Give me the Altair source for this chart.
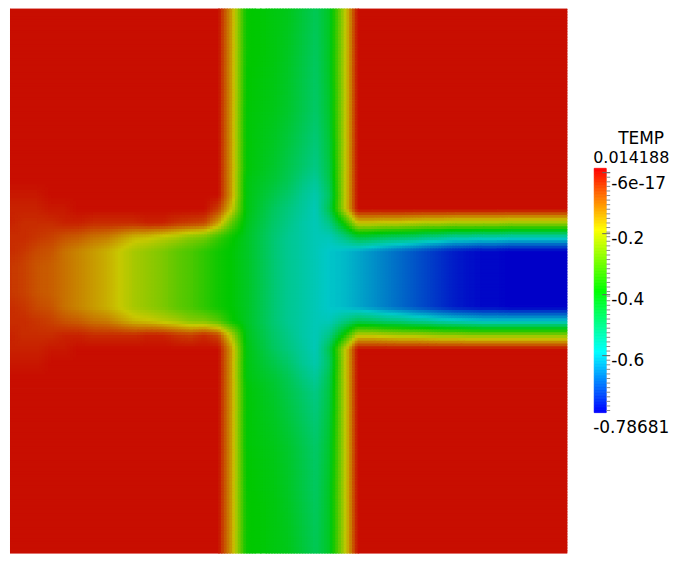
import altair as alt
import numpy as np
import pandas as pd

# ---------------- data ----------------
FIELD_NAME = "TEMP"
VMIN, VMAX = -0.78681, 0.014188

# colour-bar labels
TICK_VALUES = [0.0, -0.2, -0.4, -0.6]
TICK_LABELS = ["-6e-17", "-0.2", "-0.4", "-0.6"]
MAX_LABEL = "0.014188"
MIN_LABEL = "-0.78681"

# mesh node coordinates (1 unit = one mesh spacing)
NODE_X = list(range(41))
NODE_Y = [0, 4, 8, 12, 13, 14, 15, 16, 17, 18, 19, 20, 21, 22, 23, 24, 25, 26, 27, 28, 32, 36, 40]

# TEMP at the mesh nodes, in hundredths: left part X0-14 | middle X15-24 | right part X25-40
ZL = "0 0 0 0 0 0 0 0 0 0 0 0 0 0 0"
ZR = "0 0 0 0 0 0 0 0 0 0 0 0 0 0 0 0"
RC = "-62 -64 -66 -68 -70 -72 -74 -76 -77 -78 -78 -79 -79 -79 -79 -79"
LC = "-4 -5 -7 -8 -10 -12 -14 -16 -19 -22 -24 -26 -29 -31 -34"
MC = "-37 -39 -42 -46 -50 -53 -55 -57 -59 -60"
TEMP_ROWS = {
    0:  ZL + " | 0 -15 -38 -39 -40 -41 -44 -47 -42 -22 | " + ZR,
    4:  ZL + " | 0 -15 -38 -39 -40 -42 -45 -48 -42 -22 | " + ZR,
    8:  ZL + " | 0 -15 -39 -40 -41 -43 -46 -49 -43 -22 | " + ZR,
    12: ZL + " | 0 -15 -39 -41 -43 -46 -49 -52 -45 -22 | " + ZR,
    13: ZL + " | 0 -15 -40 -42 -44 -47 -51 -54 -46 -22 | " + ZR,
    14: "-1 -1 -1 0 0 0 0 0 0 0 0 0 0 0 0 | 0 -15 -40 -43 -46 -49 -53 -56 -48 -22 | " + ZR,
    15: "-2 -2 -2 -1 -1 0 0 0 0 0 0 0 0 0 0 | -5 -19 -40 -44 -48 -51 -54 -57 -46 -22 | " + ZR,
    16: "-2 -3 -3 -3 -2 -2 -3 -3 -3 -3 -2 -2 -4 -5 -6 | -15 -30 -41 -45 -49 -52 -55 -57 -52 -38 | "
        "-19 -19 -20 -20 -21 -22 -22 -23 -23 -23 -23 -24 -24 -24 -24 -24",
    17: "-3 -3 -4 -5 -7 -8 -10 -11 -14 -17 -18 -20 -22 -25 -27 | -33 -38 -42 -46 -50 -53 -55 -57 -57 -52 | "
        "-45 -46 -48 -49 -50 -52 -53 -55 -55 -56 -56 -57 -57 -57 -57 -57",
    18: "-3 -4 -6 -7 -10 -12 -14 -16 -19 -22 -24 -26 -29 -31 -34 | " + MC + " | " + RC,
    19: LC + " | " + MC + " | " + RC,
    20: LC + " | " + MC + " | " + RC,
    21: LC + " | " + MC + " | " + RC,
    22: "-3 -4 -6 -7 -10 -12 -14 -16 -19 -22 -24 -26 -29 -31 -34 | " + MC + " | " + RC,
    23: "-3 -3 -4 -5 -7 -8 -10 -11 -14 -17 -18 -20 -22 -25 -26 | -30 -38 -42 -46 -50 -53 -55 -57 -57 -52 | "
        "-47 -48 -50 -51 -53 -54 -56 -57 -58 -59 -59 -59 -59 -59 -59 -59",
    24: "-2 -3 -3 -3 -2 -2 -3 -3 -3 -3 -2 -2 -4 -5 -3 | -6 -22 -41 -45 -49 -52 -55 -57 -52 -38 | "
        "-20 -20 -21 -22 -22 -23 -24 -24 -25 -25 -25 -25 -25 -25 -25 -25",
    25: "-2 -2 -2 -1 -1 0 0 0 0 0 0 0 0 0 0 | 0 -15 -40 -44 -48 -51 -54 -57 -46 -22 | " + ZR,
    26: "-1 -1 -1 0 0 0 0 0 0 0 0 0 0 0 0 | 0 -15 -40 -43 -46 -49 -53 -56 -48 -22 | " + ZR,
    27: ZL + " | 0 -15 -40 -42 -44 -47 -51 -54 -46 -22 | " + ZR,
    28: ZL + " | 0 -15 -39 -41 -43 -46 -49 -52 -45 -22 | " + ZR,
    32: ZL + " | 0 -15 -39 -40 -41 -43 -46 -49 -43 -22 | " + ZR,
    36: ZL + " | 0 -15 -38 -39 -40 -42 -45 -48 -42 -22 | " + ZR,
    40: ZL + " | 0 -15 -38 -39 -40 -41 -44 -47 -42 -22 | " + ZR,
}

# ---------------- shade the mesh (linear interpolation inside cells, like the original renderer) -----
grid = np.array([[float(t) for t in TEMP_ROWS[y].replace("|", " ").split()] for y in NODE_Y]) / 100.0
assert grid.shape == (len(NODE_Y), len(NODE_X))

STEP = 0.2
xc = np.arange(0, 40, STEP) + STEP / 2
yc = np.arange(0, 40, STEP) + STEP / 2
cols = np.array([np.interp(yc, NODE_Y, grid[:, j]) for j in range(len(NODE_X))]).T
fine = np.array([np.interp(xc, NODE_X, cols[i]) for i in range(len(yc))])
q = np.round(fine / 0.002) * 0.002 + 0.0

recs = []
for i, yv in enumerate(yc):
    j = 0
    n = len(xc)
    while j < n:
        k = j
        while k + 1 < n and q[i, k + 1] == q[i, j]:
            k += 1
        recs.append((round(xc[j] - STEP / 2, 3), round(xc[k] + STEP / 2, 3),
                     round(yv - STEP / 2, 3), round(yv + STEP / 2, 3), round(float(q[i, j]), 4) + 0.0))
        j = k + 1
field_df = pd.DataFrame(recs, columns=["x0", "x1", "y0", "y1", "temp"])

# ---------------- colour scales (HSV blue -> red rainbow) ----------------
stops = [VMIN + (VMAX - VMIN) * f for f in (0, 0.25, 0.5, 0.75, 1.0)]
FIELD_COLORS = ["#0000c8", "#00c8c8", "#00c800", "#c8c800", "#c80000"]
BAR_COLORS = ["#0000ff", "#00ffff", "#00ff00", "#ffff00", "#ff0000"]

def cscale(rng):
    return alt.Scale(domain=stops, range=rng, interpolate="hsl", clamp=True)

# ---------------- layout ----------------
W, H = 559, 546
TOP_Y = 8 / 14.0          # field row visible at the top of the plot area
FONT = "DejaVu Sans"
FS = 17

heat = alt.Chart(field_df).mark_rect(strokeWidth=1.5, clip=True).encode(
    x=alt.X("x0:Q", scale=alt.Scale(domain=[0, 40], nice=False, zero=False), axis=None),
    x2="x1:Q",
    y=alt.Y("y0:Q", scale=alt.Scale(domain=[TOP_Y, TOP_Y + H / 14.0], reverse=True, nice=False, zero=False), axis=None),
    y2="y1:Q",
    color=alt.Color("temp:Q", scale=cscale(FIELD_COLORS), legend=None),
    stroke=alt.Stroke("temp:Q", scale=cscale(FIELD_COLORS), legend=None),
).properties(width=W, height=H)

# colour bar
BAR_W = 12
BAR_TOP = 160      # px from panel top
BAR_LEN = 245      # px
kpx = BAR_LEN / (VMAX - VMIN)
ybar = alt.Scale(domain=[VMAX - (H - BAR_TOP) / kpx, VMAX + BAR_TOP / kpx], nice=False, zero=False)

bv = np.linspace(VMIN, VMAX, 161)
bar_df = pd.DataFrame({"b0": bv[:-1], "b1": bv[1:], "mid": (bv[:-1] + bv[1:]) / 2})
gradient = alt.Chart(bar_df).mark_rect(strokeWidth=0.8).encode(
    y=alt.Y("b0:Q", scale=ybar, axis=None), y2="b1:Q",
    x=alt.value(0), x2=alt.value(BAR_W),
    color=alt.Color("mid:Q", scale=cscale(BAR_COLORS), legend=None),
    stroke=alt.Stroke("mid:Q", scale=cscale(BAR_COLORS), legend=None),
)

minor_df = pd.DataFrame({"t": [-0.015 * i for i in range(53)]})
minor = alt.Chart(minor_df).mark_rule(color="#8c8c8c", strokeWidth=1).encode(
    y=alt.Y("t:Q", scale=ybar, axis=None), x=alt.value(BAR_W), x2=alt.value(BAR_W + 4))

tick_df = pd.DataFrame({"t": TICK_VALUES, "lab": TICK_LABELS})
major = alt.Chart(tick_df).mark_rule(color="#666666", strokeWidth=1).encode(
    y=alt.Y("t:Q", scale=ybar, axis=None), x=alt.value(BAR_W - 4), x2=alt.value(BAR_W + 4))
labs = alt.Chart(tick_df).transform_filter("datum.t < 0").mark_text(
    align="left", baseline="alphabetic", dy=10, font=FONT, fontSize=FS, color="black").encode(
    y=alt.Y("t:Q", scale=ybar, axis=None), x=alt.value(BAR_W + 5), text="lab:N")
lab0 = alt.Chart(tick_df).transform_filter("datum.t == 0").mark_text(
    align="left", baseline="alphabetic", dy=16, font=FONT, fontSize=FS, color="black").encode(
    y=alt.Y("t:Q", scale=ybar, axis=None), x=alt.value(BAR_W + 5), text="lab:N")

ends_df = pd.DataFrame({"v": [VMAX, VMIN], "lab": [MAX_LABEL, MIN_LABEL]})
lab_max = alt.Chart(ends_df).transform_filter("datum.v > 0").mark_text(
    align="left", baseline="alphabetic", dy=-5, font=FONT, fontSize=16, color="black").encode(
    y=alt.Y("v:Q", scale=ybar, axis=None), x=alt.value(-1), text="lab:N")
lab_min = alt.Chart(ends_df).transform_filter("datum.v < 0").mark_text(
    align="left", baseline="alphabetic", dy=20, font=FONT, fontSize=FS, color="black").encode(
    y=alt.Y("v:Q", scale=ybar, axis=None), x=alt.value(-1), text="lab:N")

title_df = pd.DataFrame({"name": [FIELD_NAME]})
title = alt.Chart(title_df).mark_text(
    align="center", baseline="alphabetic", font=FONT, fontSize=FS, color="black").encode(
    x=alt.value(47), y=alt.value(136), text="name:N")

bar = alt.layer(gradient, minor, major, labs, lab0, lab_max, lab_min, title).properties(width=BAR_W, height=H)

chart = alt.hconcat(heat, bar, spacing=26).resolve_scale(
    color="independent", stroke="independent", y="independent", x="independent"
).configure_view(stroke=None).properties(
    padding={"left": 2, "right": 0, "top": 0, "bottom": 0}, background="white")

chart.save("out.html", embed_options={"renderer": "svg", "actions": False})
